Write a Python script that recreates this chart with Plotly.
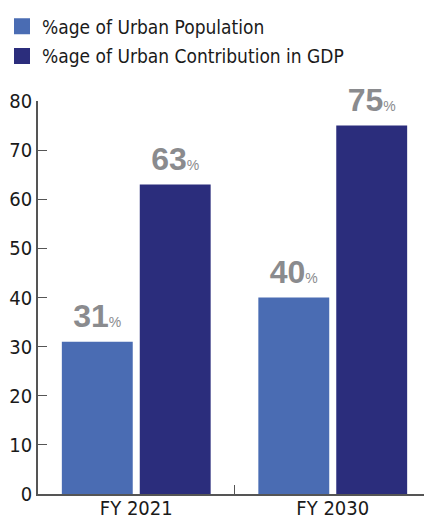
import plotly.graph_objects as go

categories = ["FY 2021", "FY 2030"]
urban_population = [31, 40]
urban_gdp = [63, 75]
series_names = ["%age of Urban Population", "%age of Urban Contribution in GDP"]
y_ticks = [0, 10, 20, 30, 40, 50, 60, 70, 80]

c_pop = "#4a6cb3"
c_gdp = "#2b2d7c"
label_color = "#8a8b8e"
narrow = "DejaVu Sans Condensed, Liberation Sans Narrow, sans-serif"

label_tpl = "<b>%{y}</b><span style='font-size:14px'>%</span>"

fig = go.Figure()
series = [(urban_population, c_pop, "pop"), (urban_gdp, c_gdp, "gdp")]
for vals, col, grp in series:
    fig.add_trace(go.Bar(
        x=categories, y=vals, marker=dict(color=col, line=dict(width=0)),
        offsetgroup=grp, showlegend=False, hoverinfo="x+y",
    ))
# value labels above the bars (aligned to the grouped bars)
for vals, col, grp in series:
    fig.add_trace(go.Scatter(
        x=categories, y=vals, mode="markers+text", offsetgroup=grp,
        marker=dict(size=9.6, opacity=0, color=col),
        texttemplate=label_tpl, textposition="top center", cliponaxis=False,
        textfont=dict(family="Liberation Sans, Arial, sans-serif", size=32, color=label_color),
        showlegend=False, hoverinfo="skip",
    ))
# legend entries (square swatches)
for (vals, col, grp), name in zip(series, series_names):
    fig.add_trace(go.Scatter(
        x=[None], y=[None], mode="markers", name=name, offsetgroup=grp,
        legendgroup=grp,
        marker=dict(symbol="square", size=17, color=col),
    ))

# the page body adds an 8px offset, so the figure is sized 8px smaller
fig.update_layout(
    width=424, height=507,
    margin=dict(l=30, r=1, t=93, b=21, autoexpand=False),
    paper_bgcolor="white", plot_bgcolor="white",
    barmode="group", bargap=0.207, bargroupgap=0.09,
    scattermode="group", scattergap=0.207,
    font=dict(family=narrow, size=19, color="#1a1a1a"),
    legend=dict(
        x=-0.0916, y=1.238,
        xanchor="left", yanchor="top",
        font=dict(family=narrow, size=19, color="#1a1a1a"),
        itemsizing="trace", bgcolor="rgba(0,0,0,0)", tracegroupgap=2,
    ),
    xaxis=dict(
        type="category", showline=True, linecolor="#555555", linewidth=1.5,
        ticks="inside", ticklen=9, tickcolor="#555555", tickson="boundaries",
        tickfont=dict(family=narrow, size=20, color="#1a1a1a"),
        ticklabelstandoff=-5,
        showgrid=False, zeroline=False,
    ),
    yaxis=dict(
        range=[0, 80], tickvals=y_ticks, showline=True, linecolor="#555555",
        linewidth=1.5, ticks="inside", ticklen=9, tickcolor="#555555",
        tickfont=dict(family=narrow, size=20, color="#1a1a1a"),
        showgrid=False, zeroline=False,
    ),
)

fig.write_html("out.html")
